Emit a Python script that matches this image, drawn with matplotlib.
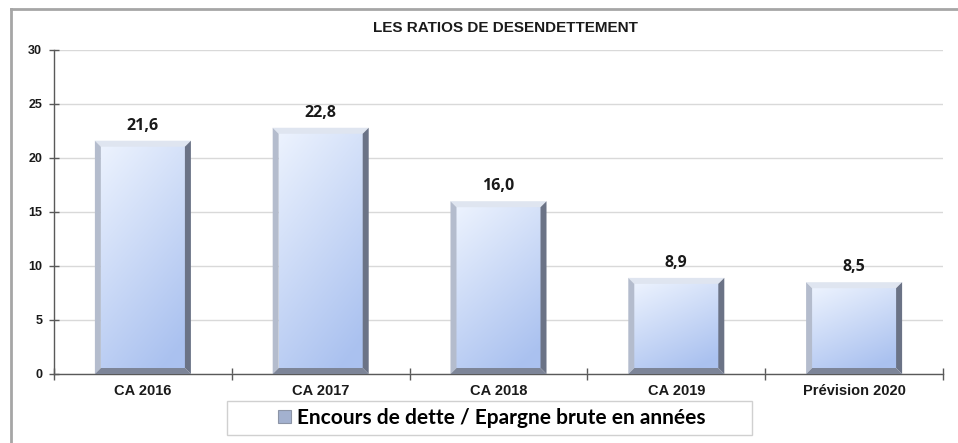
import numpy as np
import matplotlib
matplotlib.use("Agg")
import matplotlib.pyplot as plt
from matplotlib.patches import Polygon, Rectangle, Patch
from matplotlib.lines import Line2D

categories = ["CA 2016", "CA 2017", "CA 2018", "CA 2019", "Prévision 2020"]
values = [21.6, 22.8, 16.0, 8.9, 8.5]
value_labels = ["21,6", "22,8", "16,0", "8,9", "8,5"]
yticks = [0, 5, 10, 15, 20, 25, 30]
title = "LES RATIOS DE DESENDETTEMENT"
legend_label = "Encours de dette / Epargne brute en années"

W, H = 958, 443
fig = plt.figure(figsize=(W / 100, H / 100), dpi=100)
fig.patch.set_facecolor("white")

ax_l, ax_r, ax_t, ax_b = 54, 943, 50, 374
ax = fig.add_axes([ax_l / W, 1 - ax_b / H, (ax_r - ax_l) / W, (ax_b - ax_t) / H])
ax.set_xlim(-0.5, len(categories) - 0.5)
ax.set_ylim(0, 30)

# grid
ax.set_yticks(yticks)
ax.yaxis.grid(True, color="#d9d9d9", lw=1)
ax.set_axisbelow(True)
for s in ["top", "right"]:
    ax.spines[s].set_visible(False)
for s in ["left", "bottom"]:
    ax.spines[s].set_color("#595959")
    ax.spines[s].set_linewidth(1)

ax.tick_params(axis="y", direction="inout", length=7, width=1, color="#595959", pad=5)
ax.set_xticks(range(len(categories)))
ax.set_xticklabels(categories)
ax.set_xticks(np.arange(-0.5, len(categories), 1.0), minor=True)
ax.tick_params(axis="x", which="major", length=0, pad=7)
ax.tick_params(axis="x", which="minor", direction="inout", length=8, width=1, color="#595959")
for lab in ax.get_yticklabels():
    lab.set_fontfamily("Liberation Sans")
    lab.set_fontweight("bold")
    lab.set_fontsize(9)
    lab.set_color("#1a1a1a")
for lab in ax.get_xticklabels():
    lab.set_fontfamily("Liberation Sans")
    lab.set_fontweight("bold")
    lab.set_fontsize(10.5)
    lab.set_color("#1a1a1a")

# bars with gradient face and bevel edges
bar_w = 0.54
px_x = (ax_r - ax_l) / len(categories)
px_y = (ax_b - ax_t) / 30.0
bev = 6
dx = bev / px_x
dy = bev / px_y

grad_n = 64
GX, GY = np.meshgrid(np.linspace(0, 1, grad_n), np.linspace(0, 1, grad_n))
c_light = np.array([0.925, 0.95, 0.995])
c_dark = np.array([0.67, 0.76, 0.94])

for i, v in enumerate(values):
    x0, x1 = i - bar_w / 2, i + bar_w / 2
    # face gradient (row 0 at top): light top-left -> blue bottom-right
    tt = np.clip(0.35 * GX + 0.75 * GY, 0, 1)
    img = c_light[None, None, :] * (1 - tt[..., None]) + c_dark[None, None, :] * tt[..., None]
    ax.imshow(img, extent=[x0 + dx, x1 - dx, dy, v - dy], origin="upper",
              aspect="auto", zorder=2, interpolation="bilinear")
    # bevels
    top = Polygon([(x0, v), (x1, v), (x1 - dx, v - dy), (x0 + dx, v - dy)],
                  closed=True, facecolor="#dfe5f0", edgecolor="none", zorder=3)
    left = Polygon([(x0, v), (x0 + dx, v - dy), (x0 + dx, dy), (x0, 0)],
                   closed=True, facecolor="#b4bccd", edgecolor="none", zorder=3)
    right = Polygon([(x1, v), (x1, 0), (x1 - dx, dy), (x1 - dx, v - dy)],
                    closed=True, facecolor="#6b7386", edgecolor="none", zorder=3)
    bottom = Polygon([(x0, 0), (x1, 0), (x1 - dx, dy), (x0 + dx, dy)],
                     closed=True, facecolor="#7d8598", edgecolor="none", zorder=3)
    for p in (top, left, right, bottom):
        ax.add_patch(p)
    ax.annotate(value_labels[i], xy=(i, v), xytext=(0, 8), textcoords="offset points",
                ha="center", va="baseline", fontsize=11.5, fontweight="bold",
                family="Open Sans", color="#1a1a1a", zorder=5)

# title
fig.text(505 / W, 1 - 28 / H, title, ha="center", va="center", fontsize=11,
         fontweight="bold", family="Liberation Sans", color="#1a1a1a")

# legend box
fig.patches.append(Rectangle((227 / W, 1 - 435 / H), (752 - 227) / W, (435 - 401) / H,
                             transform=fig.transFigure, facecolor="white",
                             edgecolor="#d0d0d0", lw=1))
handle = Patch(facecolor="#a3b1cf", edgecolor="#8c94a6", lw=0.8)
leg = fig.legend([handle], [legend_label], loc="center", bbox_to_anchor=(492 / W, 1 - 418 / H),
                 frameon=False, prop={"family": "Lato", "size": 15, "weight": "bold"},
                 handlelength=0.6, handleheight=0.6, handletextpad=0.3, borderpad=0)

# outer frame
fig.add_artist(Line2D([11 / W, 11 / W], [0, 1 - 9 / H], transform=fig.transFigure,
                      color="#a6a6a6", lw=2))
fig.add_artist(Line2D([11 / W, 1], [1 - 9 / H, 1 - 9 / H], transform=fig.transFigure,
                      color="#a6a6a6", lw=2))

fig.savefig("out.png", dpi=100)
